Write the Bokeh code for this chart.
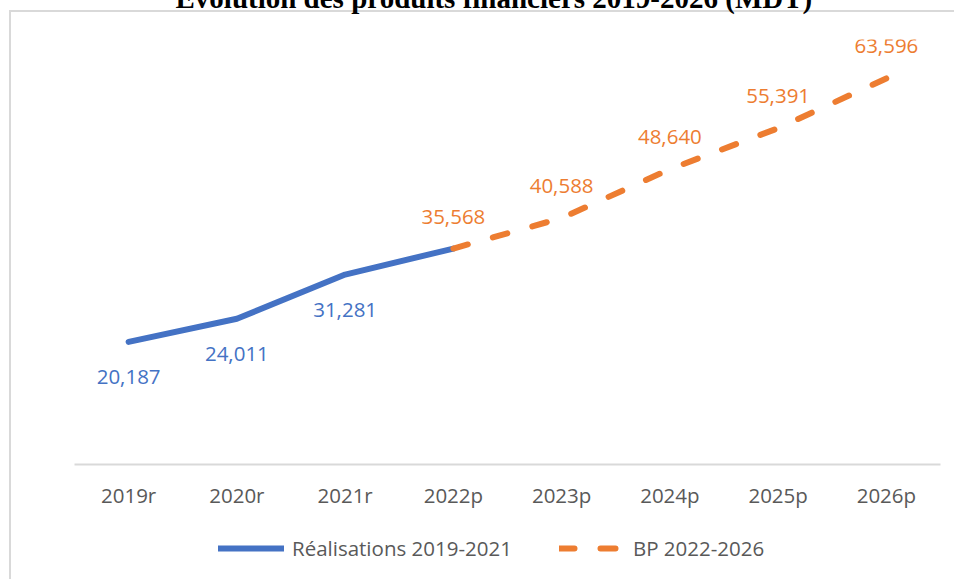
from bokeh.plotting import figure
from bokeh.layouts import column
from bokeh.models import Range1d, Legend, LegendItem, ColumnDataSource
from bokeh.core.properties import value
from bokeh.embed import file_html
from bokeh.resources import INLINE

# ---- data ----
categories = ["2019r", "2020r", "2021r", "2022p", "2023p", "2024p", "2025p", "2026p"]
real_years = ["2019r", "2020r", "2021r", "2022p"]
real_values = [20187, 24011, 31281, 35568]
real_label_years = ["2019r", "2020r", "2021r"]
real_label_values = [20187, 24011, 31281]
bp_years = ["2022p", "2023p", "2024p", "2025p", "2026p"]
bp_values = [35568, 40588, 48640, 55391, 63596]
title_text = "Évolution des produits financiers 2019-2026 (MDT)"
real_name = "Réalisations 2019-2021"
bp_name = "BP 2022-2026"
y_max = 70000

BLUE = "#4472C4"
ORANGE = "#ED7D31"
GREY_TXT = "#595959"
GRID = "#D9D9D9"
FONT = "Open Sans"
FS = "20.5px"

TOP = 100          # border above the plot frame
SHIFT = -61        # figure starts above the page so the title is cropped like the reference
BOTTOM = 50
FRAME_H = 425
LEG_H = 579 - (SHIFT + TOP + FRAME_H + BOTTOM)

main_css = (f"linear-gradient({GRID},{GRID}) 9px {10 - SHIFT}px / 2px 2000px no-repeat, "
            f"linear-gradient({GRID},{GRID}) 9px {10 - SHIFT}px / 3000px 2px no-repeat")
leg_css = f"linear-gradient({GRID},{GRID}) 9px 0px / 2px 2000px no-repeat"

p = figure(x_range=categories, y_range=Range1d(0, y_max),
           width=954, height=TOP + FRAME_H + BOTTOM, output_backend="svg", toolbar_location=None,
           y_axis_location=None,
           min_border_left=74, min_border_right=14, min_border_top=TOP, min_border_bottom=BOTTOM,
           margin=(SHIFT, 0, 0, 0),
           styles={"background": main_css})

p.outline_line_color = None
p.xgrid.grid_line_color = None
p.ygrid.grid_line_color = None
p.background_fill_color = None
p.border_fill_color = None

# title
p.title.text = title_text
p.title.text_font = "Liberation Serif"
p.title.text_font_style = "bold"
p.title.text_font_size = "29px"
p.title.text_color = "#000000"
p.title.align = "left"
p.title.offset = 101
p.title.standoff = 51

# x axis
ax = p.xaxis[0]
ax.axis_line_color = GRID
ax.axis_line_width = 2
ax.major_tick_line_color = None
ax.minor_tick_line_color = None
ax.major_label_text_font = FONT
ax.major_label_text_font_size = FS
ax.major_label_text_color = GREY_TXT
ax.major_label_standoff = 10

# lines
line_real = dict(line_color=BLUE, line_width=6, line_cap="round", line_join="round")
line_bp = dict(line_color=ORANGE, line_width=6, line_cap="round", line_join="round",
               line_dash="15 26")
real_src = ColumnDataSource(dict(x=real_years, y=real_values))
bp_src = ColumnDataSource(dict(x=bp_years, y=bp_values))
p.line("x", "y", source=real_src, **line_real)
p.line("x", "y", source=bp_src, **line_bp)

# data labels
real_lab = ColumnDataSource(dict(x=real_label_years, y=real_label_values,
                                 t=[f"{v:,}" for v in real_label_values]))
bp_lab = ColumnDataSource(dict(x=bp_years, y=bp_values,
                               t=[f"{v:,}" for v in bp_values]))
p.text("x", "y", text="t", source=real_lab, text_align="center", text_baseline="middle",
       y_offset=35, text_font=value(FONT), text_font_size=FS, text_color=BLUE)
p.text("x", "y", text="t", source=bp_lab, text_align="center", text_baseline="middle",
       y_offset=-32, text_font=value(FONT), text_font_size=FS, text_color=ORANGE)

# ---- legend strip below the chart ----
# same series, drawn against a y window that lies outside the data, so only the
# legend samples are visible in this strip
leg = figure(width=954, height=LEG_H, x_range=p.x_range, y_range=Range1d(-2, -1),
             output_backend="svg", toolbar_location=None,
             x_axis_location=None, y_axis_location=None,
             min_border_left=74, min_border_right=14, min_border_top=0, min_border_bottom=0,
             styles={"background": leg_css})
leg.outline_line_color = None
leg.background_fill_color = None
leg.border_fill_color = None
leg.grid.visible = False
k_real = leg.line("x", "y", source=real_src, **line_real)
k_bp = leg.line("x", "y", source=bp_src, **line_bp)

legend = Legend(items=[LegendItem(label=real_name, renderers=[k_real]),
                       LegendItem(label=bp_name, renderers=[k_bp])],
                location=(144, 17), orientation="horizontal",
                glyph_width=66, glyph_height=20, label_standoff=8, spacing=47,
                padding=0, margin=0, border_line_color=None, background_fill_alpha=0,
                label_text_font=FONT, label_text_font_size=FS, label_text_color=GREY_TXT)
leg.add_layout(legend)

layout = column(p, leg, spacing=0)

open("out.html", "w").write(file_html(layout, INLINE))
